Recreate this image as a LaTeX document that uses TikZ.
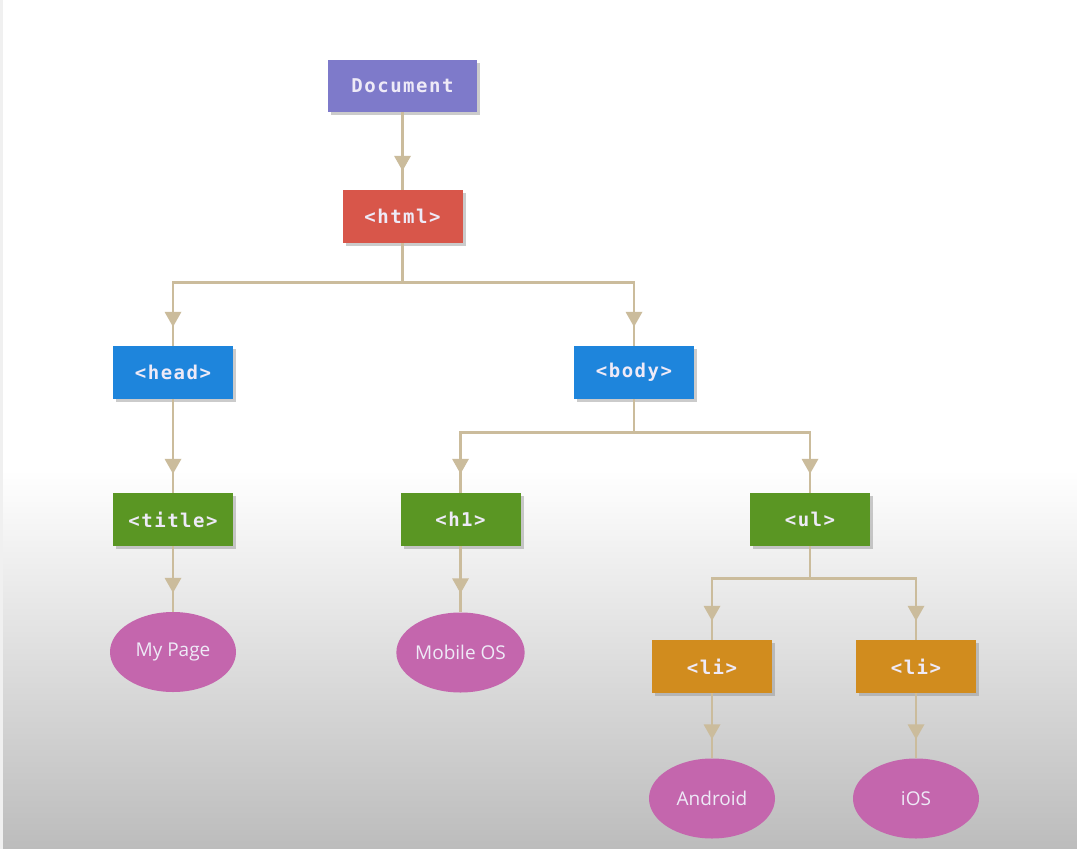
\documentclass[tikz,border=0pt]{standalone}
\usepackage{fontspec}
\usetikzlibrary{shapes.geometric,arrows.meta,decorations.markings,shadows}
\newfontfamily\boxfont[LetterSpace=8]{DejaVu Sans Mono}
\newfontfamily\leaffont{Open Sans}
\definecolor{cdoc}{HTML}{7E7ACA}
\definecolor{chtml}{HTML}{D8564A}
\definecolor{cblue}{HTML}{1E85DC}
\definecolor{cgreen}{HTML}{5A9623}
\definecolor{corange}{HTML}{D18C1E}
\definecolor{cleaf}{HTML}{C466AD}
\definecolor{cline}{HTML}{CBBC9C}
\definecolor{ctext}{HTML}{EEEAF7}
\definecolor{cbot}{HTML}{BCBCBC}
\tikzset{
  tagbox/.style={rectangle, minimum width=120pt, minimum height=53pt, inner sep=0pt,
    text=ctext, font=\boxfont\bfseries\fontsize{19}{21}\selectfont,
    drop shadow={shadow xshift=3pt, shadow yshift=-3pt, fill=black!45, opacity=0.45}},
  leaf/.style={ellipse, fill=cleaf, minimum width=126pt, minimum height=80pt, inner sep=0pt,
    text=ctext, font=\leaffont\fontsize{19}{21}\selectfont},
  conn/.style={draw=cline, line width=2.8pt, postaction={decorate},
    decoration={markings, mark=at position -19pt with {\fill[cline] (0pt,0pt) -- (-15pt,8.5pt) -- (-15pt,-8.5pt) -- cycle;}}}
}
\begin{document}
\begin{tikzpicture}[x=1pt,y=-1pt]
\useasboundingbox (0,0) rectangle (1077,849);
\fill[white] (0,0) rectangle (1077,849);
\shade[top color=white, bottom color=cbot] (0,470) rectangle (1077,849);
\fill[black!6] (0,0) rectangle (3,849);
% nodes
\node[tagbox, fill=cdoc, minimum width=149pt, minimum height=52pt] (doc) at (402.5,86) {Document};
\node[tagbox, fill=chtml] (html) at (402.5,216.5) {<html>};
\node[tagbox, fill=cblue] (head) at (173,372.5) {<head>};
\node[tagbox, fill=cblue] (body) at (634,372.5) {<body>};
\node[tagbox, fill=cgreen] (title) at (173,519.5) {<title>};
\node[tagbox, fill=cgreen] (h1) at (460.5,519.5) {<h1>};
\node[tagbox, fill=cgreen] (ul) at (810,519.5) {<ul>};
\node[tagbox, fill=corange] (li1) at (712,666.5) {<li>};
\node[tagbox, fill=corange] (li2) at (916,666.5) {<li>};
\node[leaf] (mypage) at (173,652) {My Page};
\node[leaf] (mobile) at (460.5,652.5) {Mobile OS};
\node[leaf] (android) at (712,798.5) {Android};
\node[leaf] (ios) at (916,798.5) {iOS};
% connectors
\draw[conn] (doc.south) -- (html.north);
\draw[conn] (html.south) -- ++(0,39) -| (head.north);
\draw[conn] (html.south) -- ++(0,39) -| (body.north);
\draw[conn] (head.south) -- (title.north);
\draw[conn] (body.south) -- ++(0,33) -| (h1.north);
\draw[conn] (body.south) -- ++(0,33) -| (ul.north);
\draw[conn] (title.south) -- (mypage.north);
\draw[conn] (h1.south) -- (mobile.north);
\draw[conn] (ul.south) -- ++(0,32) -| (li1.north);
\draw[conn] (ul.south) -- ++(0,32) -| (li2.north);
\draw[conn] (li1.south) -- (android.north);
\draw[conn] (li2.south) -- (ios.north);
\end{tikzpicture}
\end{document}
